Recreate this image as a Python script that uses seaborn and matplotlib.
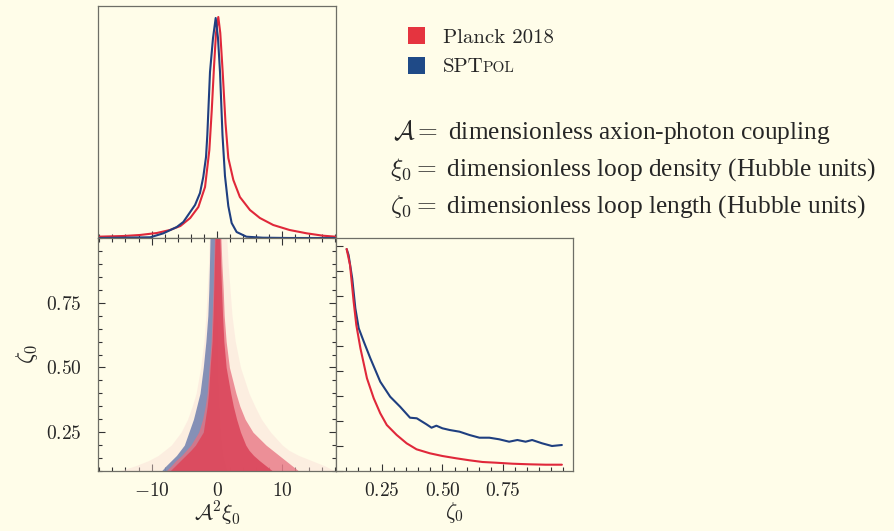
import matplotlib
matplotlib.use("Agg")
import matplotlib.pyplot as plt
import matplotlib.patches as mpatches
from matplotlib.ticker import MultipleLocator
import seaborn as sns

sns.set_theme(style="ticks")
plt.rcParams['font.family'] = ['cmr10', 'DejaVu Serif']
plt.rcParams['mathtext.fontset'] = 'cm'
plt.rcParams['axes.formatter.use_mathtext'] = True

BG = '#FFFDE9'
RED = '#E0283A'
BLUE = '#1F3F80'

# marginal of A^2 xi_0 (arbitrary height units)
a2xi_sptpol = [-18, -10.2, -8.2, -6.15, -5.15, -4.1, -3.36, -2.6, -2.1, -1.68, -1.48, -1.07, -0.61,
               -0.2, 0.15, 0.46, 0.84, 1.22, 1.73, 2.24, 3.0, 4.5, 7.0, 11.0, 18]
dens_sptpol = [0, 0.7, 4.7, 11, 16, 26, 33, 45, 61, 81, 103, 166, 200,
               220, 200, 166, 103, 62, 32, 15, 6, 1.3, 0.3, 0, 0]
a2xi_planck = [-18.2, -14.3, -11.8, -9.2, -7.2, -5.6, -4.1, -2.85, -1.83, -1.17, -0.8, -0.46, -0.15,
               0.2, 0.5, 0.87, 1.3, 1.73, 2.5, 3.5, 5.04, 6.56, 8.6, 11.1, 13.7, 16.2, 18.2]
dens_planck = [1.3, 2, 3, 5, 8, 12, 20, 31, 51, 88, 128, 171, 205,
               221, 205, 166, 115, 80, 58, 41, 28, 20, 13, 8, 4.7, 2.3, 1.3]

# marginal of zeta_0
zeta_sptpol = [0.104, 0.112, 0.127, 0.14, 0.154, 0.175, 0.202, 0.243, 0.284, 0.325, 0.366, 0.394,
               0.434, 0.455, 0.475, 0.5, 0.53, 0.571, 0.612, 0.653, 0.694, 0.735, 0.776, 0.81,
               0.844, 0.871, 0.912, 0.953, 0.994]
zdens_sptpol = [222, 216, 192.7, 162.7, 142.7, 129.3, 112.7, 89.3, 74.3, 64.3, 53.3, 52.7,
                46.7, 43.3, 45.3, 42.7, 41, 39.3, 36, 33.3, 33.3, 31.7, 29.3, 31,
                29.3, 31, 27.7, 25, 26]
zeta_planck = [0.104, 0.118, 0.133, 0.144, 0.161, 0.188, 0.216, 0.243, 0.27, 0.311, 0.352, 0.393,
               0.448, 0.5, 0.557, 0.612, 0.666, 0.721, 0.789, 0.858, 0.926, 0.994]
zdens_planck = [222, 206, 169.3, 146, 122.7, 92.7, 72.7, 57.7, 46, 36, 27.7, 21.7,
                17.7, 15, 12.7, 10.7, 9, 8.3, 7.3, 6.7, 6.3, 6.3]

# 2D sample cloud: extent in A^2 xi_0 per zeta_0 row
zeta_rows = [0.10, 0.12, 0.14, 0.16, 0.18, 0.20, 0.25, 0.30, 0.35, 0.40, 0.50, 0.60, 0.70, 0.80, 0.90, 1.00]
halo_lo = [-15.0, -12.5, -10.5, -9.0, -8.0, -7.0, -5.5, -4.5, -3.8, -3.2, -2.5, -2.0, -1.7, -1.5, -1.3, -1.2]
halo_hi = [18.0, 16.5, 14.5, 12.5, 11.0, 10.0, 8.2, 6.8, 5.8, 4.9, 3.6, 2.8, 2.3, 2.0, 1.7, 1.5]
sptpol_lo = [-8.5, -7.8, -7.0, -6.2, -5.6, -5.0, -4.3, -3.6, -3.1, -2.6, -2.1, -1.7, -1.4, -1.25, -1.15, -1.07]
sptpol_hi = [1.5, 1.3, 1.1, 0.9, 0.8, 0.7, 0.5, 0.4, 0.3, 0.2, 0.1, 0.05, 0.0, 0.0, -0.05, -0.05]
planck_mid_lo = [-7.8, -7.0, -6.3, -5.4, -4.7, -4.0, -2.8, -2.2, -1.8, -1.5, -1.2, -0.9, -0.75, -0.6, -0.5, -0.4]
planck_mid_hi = [12.5, 11.5, 10.5, 9.5, 8.5, 7.5, 5.5, 4.3, 3.5, 2.9, 1.9, 1.4, 1.1, 0.95, 0.75, 0.6]
planck_core_lo = [-7.2, -6.4, -5.6, -4.8, -4.0, -3.3, -2.1, -1.8, -1.5, -1.3, -1.05, -0.75, -0.6, -0.5, -0.4, -0.3]
planck_core_hi = [8.5, 7.5, 6.5, 5.6, 4.9, 4.4, 3.6, 3.0, 2.5, 2.1, 1.4, 1.05, 0.85, 0.7, 0.55, 0.45]

fig = plt.figure(figsize=(8.94, 5.31), dpi=100, facecolor=BG)
W, H = 894, 531


def px_axes(l, t, r, b):
    return fig.add_axes([l / W, 1 - b / H, (r - l) / W, (b - t) / H], facecolor=BG)


ax_top = px_axes(98, 6, 336, 238)
ax_2d = px_axes(98, 238, 336, 471)
ax_z = px_axes(336, 238, 573, 471)

for ax in (ax_top, ax_2d, ax_z):
    for s in ax.spines.values():
        s.set_color('#6e6e66')
        s.set_linewidth(0.9)
    ax.tick_params(which='both', direction='in', color='#333333', width=0.8,
                   labelsize=14, top=False, right=False)
    ax.tick_params(which='major', length=5)
    ax.tick_params(which='minor', length=3)

# top: marginal of A^2 xi_0
sns.lineplot(x=a2xi_planck, y=dens_planck, ax=ax_top, color=RED, lw=1.5)
sns.lineplot(x=a2xi_sptpol, y=dens_sptpol, ax=ax_top, color=BLUE, lw=1.5)
ax_top.set_xlim(-18.2, 18.2)
ax_top.set_ylim(0, 232)
ax_top.set_xticks([-10, 0, 10])
ax_top.xaxis.set_minor_locator(MultipleLocator(2))
ax_top.set_yticks([])
ax_top.tick_params(labelbottom=False, labelleft=False)
ax_top.set_xlabel('')
ax_top.set_ylabel('')

# 2D panel
ax_2d.fill_betweenx(zeta_rows, halo_lo, halo_hi, color='#FADDD7', alpha=0.45, lw=0)
ax_2d.fill_betweenx(zeta_rows, sptpol_lo, sptpol_hi, color='#7886B2', alpha=0.9, lw=0)
ax_2d.fill_betweenx(zeta_rows, planck_mid_lo, planck_mid_hi, color='#E7707F', alpha=0.75, lw=0)
ax_2d.fill_betweenx(zeta_rows, planck_core_lo, planck_core_hi, color='#DC4A5E', alpha=0.95, lw=0)
ax_2d.set_xlim(-18.2, 18.2)
ax_2d.set_ylim(0.1, 1.0)
ax_2d.set_xticks([-10, 0, 10], labels=[r'$-10$', r'$0$', r'$10$'])
ax_2d.set_yticks([0.25, 0.5, 0.75], labels=[r'$0.25$', r'$0.50$', r'$0.75$'])
ax_2d.xaxis.set_minor_locator(MultipleLocator(2))
ax_2d.yaxis.set_minor_locator(MultipleLocator(0.05))
ax_2d.tick_params(which='both', top=True, right=True)
ax_2d.tick_params(axis='x', pad=8)
ax_2d.tick_params(axis='y', pad=12)
ax_2d.set_xlabel(r'$\mathcal{A}^2\xi_0$', fontsize=16, labelpad=0)
ax_2d.set_ylabel(r'$\zeta_0$', fontsize=17, labelpad=4)

# right: marginal of zeta_0
sns.lineplot(x=zeta_sptpol, y=zdens_sptpol, ax=ax_z, color=BLUE, lw=1.5)
sns.lineplot(x=zeta_planck, y=zdens_planck, ax=ax_z, color=RED, lw=1.5)
ax_z.set_xlim(0.06, 1.04)
ax_z.set_ylim(0, 233)
ax_z.set_xticks([0.25, 0.5, 0.75], labels=[r'$0.25$', r'$0.50$', r'$0.75$'])
ax_z.xaxis.set_minor_locator(MultipleLocator(0.05))
ax_z.yaxis.set_major_locator(MultipleLocator(25))
ax_z.tick_params(labelleft=False)
ax_z.tick_params(axis='x', pad=8)
ax_z.set_xlabel(r'$\zeta_0$', fontsize=16, labelpad=0)
ax_z.set_ylabel('')

# legend, drawn by hand in pixel coordinates
for top, col in ((27, '#E5343F'), (57, '#1F4A87')):
    fig.add_artist(mpatches.Rectangle((408 / W, 1 - (top + 17) / H), 17 / W, 17 / H,
                                      transform=fig.transFigure, color=col, lw=0))
fig.text(443 / W, 1 - 42.5 / H, 'Planck 2018', fontsize=15, va='baseline', ha='left')
spt = fig.text(443 / W, 1 - 72.5 / H, 'SPT', fontsize=15, va='baseline', ha='left')
fig.canvas.draw()
bb = spt.get_window_extent()
fig.text(bb.x1 / fig.bbox.width - 1 / W, 1 - 72.5 / H, 'POL', fontsize=11, va='baseline', ha='left')

desc = [
    (393, 131.7, r'$\mathcal{A} =$ dimensionless axion-photon coupling'),
    (390, 170.0, r'$\xi_0 =$ dimensionless loop density (Hubble units)'),
    (390, 207.0, r'$\zeta_0 =$ dimensionless loop length (Hubble units)'),
]
for x, y, s in desc:
    fig.text(x / W, 1 - y / H, s, fontsize=18.3, va='center', ha='left', family='Liberation Serif')

fig.savefig('out.png', dpi=100, facecolor=BG)
